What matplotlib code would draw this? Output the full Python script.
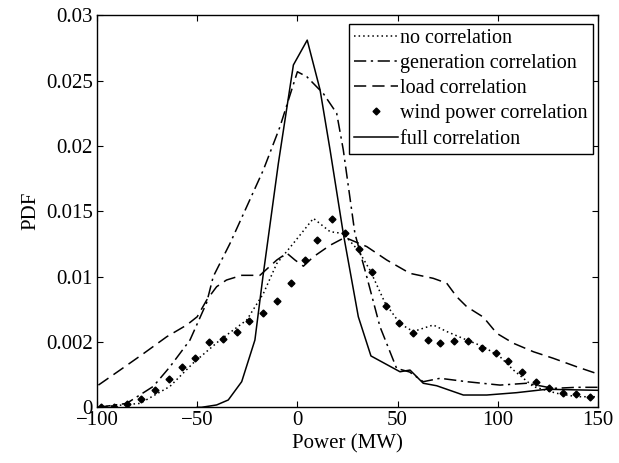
import matplotlib
matplotlib.use("Agg")
import matplotlib.pyplot as plt

# no correlation (dotted)
no_x = [-100, -78.5, -63.6, -51.9, -38.6, -25.3, -17, -10.3, -2, 8, 16.3, 22.9, 30.4, 36.2,
        43.7, 51.2, 57.8, 67.8, 74.5, 84.5, 92.8, 101.1, 107.8, 117.8, 129.4, 139.4, 150]
no_y = [0.0, 0.0003, 0.0016, 0.0034, 0.00515, 0.00668, 0.0087, 0.011, 0.01255, 0.01446, 0.01344,
        0.0133, 0.0120, 0.0105, 0.0080, 0.0064, 0.0058, 0.0063, 0.0058, 0.00515, 0.00464, 0.00387,
        0.00285, 0.00158, 0.00107, 0.00081, 0.00081]

# generation correlation (dash-dot)
gen_x = [-99.3, -85.2, -71.9, -63.6, -53.6, -45.3, -42, -33.6, -25.3, -17, -8.7, 0, 4.7, 13,
         19.6, 22.9, 28.7, 34.6, 41.2, 49.5, 56, 62.8, 71.2, 84.5, 101.1, 114.4, 127.7, 139.4, 150]
gen_y = [0.0, 0.0003, 0.0016, 0.0031, 0.00515, 0.0080, 0.0100, 0.01255, 0.01535, 0.01816, 0.02147,
         0.02568, 0.0253, 0.0240, 0.0225, 0.0197, 0.0133, 0.0100, 0.00617, 0.00298, 0.0027, 0.00196,
         0.00222, 0.00196, 0.0017, 0.00184, 0.00145, 0.00153, 0.00153]

# load correlation (dashed)
load_x = [-99.3, -88.5, -76.9, -65.2, -55.2, -50, -45.3, -40.3, -35.4, -27.8, -18.7, -10.3, -5.3,
          -1.2, 3, 8, 16.3, 23.7, 34.6, 44.6, 56.2, 67.8, 74.5, 79.5, 84.5, 92.8, 99.5, 107.8,
          117.8, 127.7, 139.4, 150]
load_y = [0.0017, 0.00285, 0.0041, 0.0054, 0.0063, 0.00693, 0.0082, 0.00923, 0.00974, 0.0101,
          0.0101, 0.01127, 0.0118, 0.01127, 0.0108, 0.01152, 0.0124, 0.0130, 0.0123, 0.01127,
          0.01025, 0.00987, 0.0095, 0.00846, 0.0077, 0.0069, 0.00566, 0.0049, 0.00425, 0.00375,
          0.0031, 0.00255]

# wind power correlation (diamond markers)
wind_x = [-98.2, -91.4, -84.9, -78, -71.1, -64.2, -57.8, -51.1, -44.1, -37.3, -30.3, -24, -17,
          -10, -3.2, 3.8, 9.9, 17.1, 23.8, 30.7, 37.1, 44.2, 50.9, 57.9, 65, 71.2, 78.1, 85, 92,
          98.9, 105.3, 112.2, 118.9, 125.7, 132.7, 139, 146]
wind_y = [0.0, 0.00005, 0.00025, 0.00066, 0.00133, 0.00214, 0.00311, 0.0038, 0.00502, 0.0052,
          0.00579, 0.0066, 0.00719, 0.00814, 0.00954, 0.01127, 0.0128, 0.01441, 0.01337, 0.01211,
          0.01033, 0.00775, 0.00648, 0.00566, 0.00515, 0.0049, 0.00507, 0.00507, 0.00454, 0.00418,
          0.00357, 0.0027, 0.00191, 0.0015, 0.00112, 0.001, 0.00077]

# full correlation (solid)
full_x = [-50, -47.8, -40.3, -34.5, -27.8, -21.2, -17.2, -9.5, -2, 4.9, 11.3, 16.3, 22.9, 30.4,
          36.7, 51.2, 56.2, 62.8, 69.5, 82.8, 94.5, 109.4, 124.4, 150]
full_y = [0.0, 0.0, 0.00018, 0.00056, 0.00196, 0.00515, 0.0100, 0.01867, 0.0262, 0.0281, 0.0243,
          0.0197, 0.0133, 0.00693, 0.00393, 0.00272, 0.00285, 0.00184, 0.00165, 0.00094, 0.00094,
          0.00112, 0.00138, 0.0013]

x_ticks = [-100, -50, 0, 50, 100, 150]
y_ticks = [0, 0.005, 0.01, 0.015, 0.02, 0.025, 0.03]
y_tick_labels = ["0", "0.002", "0.01", "0.015", "0.02", "0.025", "0.03"]

plt.rcParams.update({
    "font.family": ["Liberation Serif", "DejaVu Serif"],
    "font.size": 15,
})

fig = plt.figure(figsize=(6.19, 4.63), dpi=100)
ax = fig.add_axes([97 / 619, 1 - 407.3 / 463, 501 / 619, 392 / 463])

ax.plot(no_x, no_y, color="black", lw=1.1, linestyle=(0, (1, 2)), label="no correlation")
ax.plot(gen_x, gen_y, color="black", lw=1.1, linestyle=(0, (8, 3, 1.5, 3)),
        label="generation correlation")
ax.plot(load_x, load_y, color="black", lw=1.1, linestyle=(0, (8, 4)), label="load correlation")
ax.plot(wind_x, wind_y, color="black", linestyle="none", marker="D", markersize=3.5,
        label="wind power correlation")
ax.plot(full_x, full_y, color="black", lw=1.1, linestyle="-", label="full correlation")

ax.set_xlim(-100, 150)
ax.set_ylim(0, 0.03)
ax.set_xticks(x_ticks)
ax.set_xticklabels([str(t) if t >= 0 else "\u2212" + str(-t) for t in x_ticks])
ax.set_yticks(y_ticks)
ax.set_yticklabels(y_tick_labels)
ax.tick_params(direction="in", top=True, right=True, length=4, width=0.8, pad=3,
               labelsize=15)
for sp in ax.spines.values():
    sp.set_linewidth(1.0)

ax.set_xlabel("Power (MW)", labelpad=3, fontsize=15)
ax.set_ylabel("PDF", labelpad=4, fontsize=15)

leg = ax.legend(loc="upper right", bbox_to_anchor=(0.99, 0.978), fontsize=14.5,
                frameon=True, fancybox=False, edgecolor="black", framealpha=1,
                handlelength=2.2, handletextpad=0.1, borderpad=0.25, labelspacing=0.3,
                borderaxespad=0)
leg.get_frame().set_linewidth(1.0)

fig.savefig("out.png", dpi=100)
